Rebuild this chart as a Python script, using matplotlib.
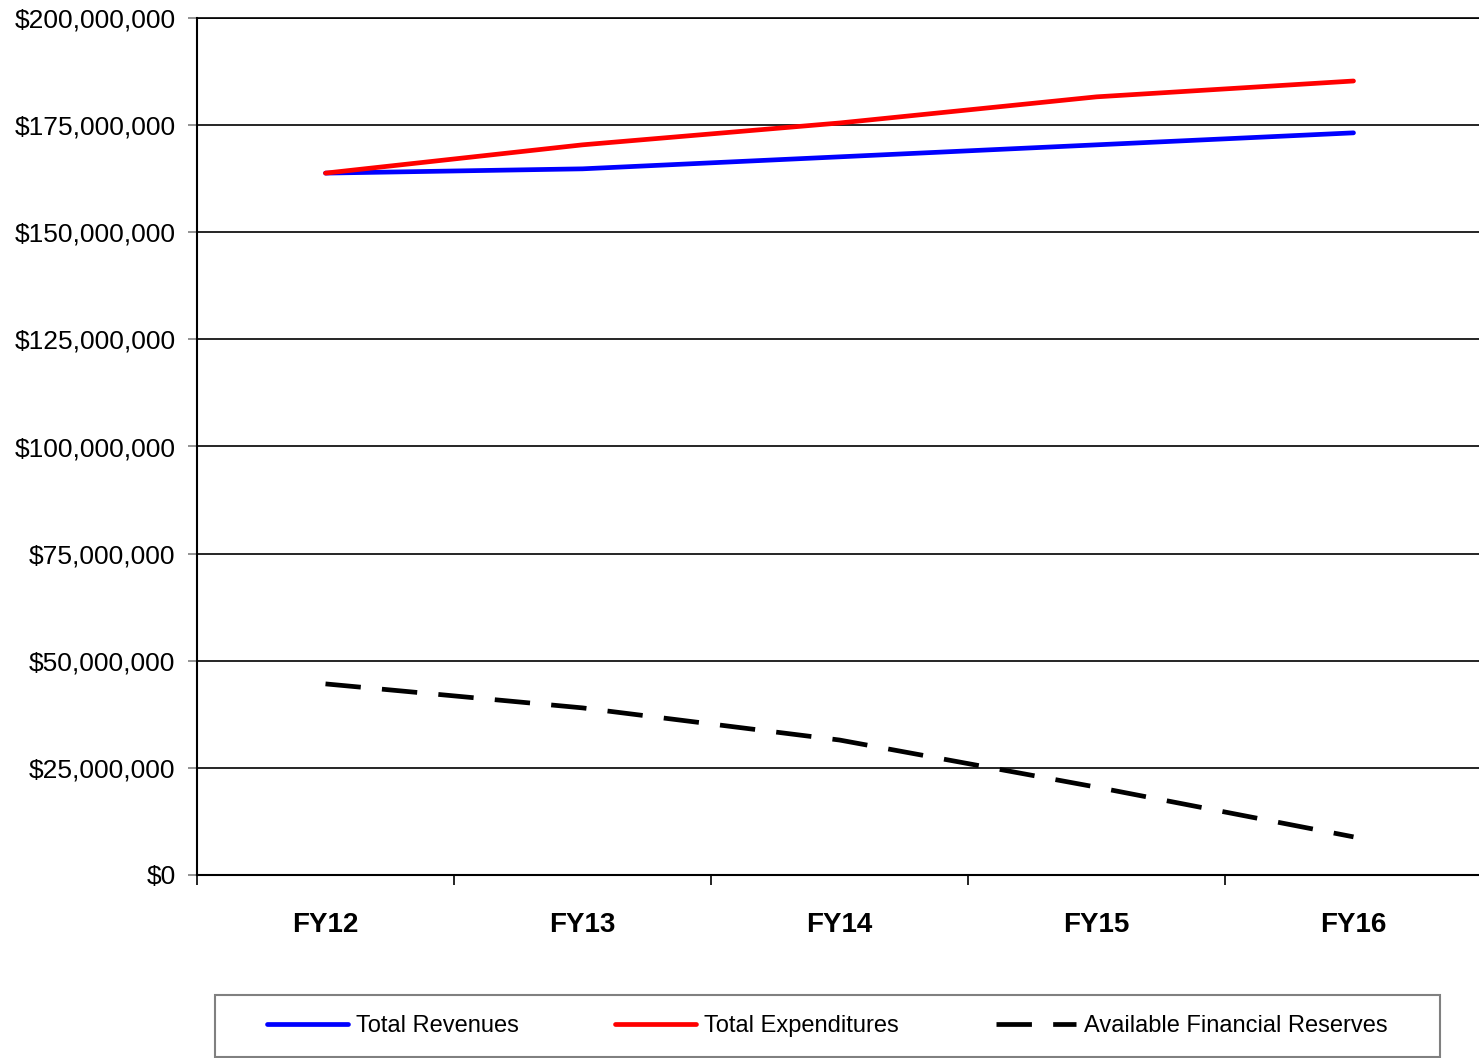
import matplotlib.pyplot as plt
from matplotlib.patches import Rectangle
from matplotlib.ticker import FuncFormatter, FixedLocator

years = ["FY12", "FY13", "FY14", "FY15", "FY16"]
revenues = [163.8e6, 164.8e6, 167.6e6, 170.4e6, 173.2e6]
expenditures = [163.8e6, 170.4e6, 175.5e6, 181.6e6, 185.3e6]
reserves = [44.6e6, 39.0e6, 31.5e6, 20.5e6, 8.9e6]

plt.rcParams["font.family"] = ["Liberation Sans", "DejaVu Sans"]

fig = plt.figure(figsize=(14.79, 10.58), dpi=100)
ax = fig.add_axes([197 / 1479, 1 - 875 / 1058, 1285 / 1479, 857 / 1058])

x = list(range(len(years)))
ax.plot(x, revenues, color="#0000ff", lw=3.4, solid_capstyle="round", label="Total Revenues", zorder=3)
ax.plot(x, expenditures, color="#ff0000", lw=3.4, solid_capstyle="round", label="Total Expenditures", zorder=4)
ax.plot(x, reserves, color="black", lw=3.4, dashes=(7.5, 4.5), label="Available Financial Reserves", zorder=3)

ax.set_xlim(-0.5, 4.5)
ax.set_ylim(0, 200e6)
ax.set_yticks([i * 25e6 for i in range(9)])
ax.yaxis.set_major_formatter(FuncFormatter(lambda v, p: "${:,.0f}".format(v)))
ax.grid(axis="y", color="black", lw=1.2)
ax.set_axisbelow(True)

ax.set_xticks(x)
ax.set_xticklabels(years, fontsize=20, fontweight="bold")
ax.xaxis.set_minor_locator(FixedLocator([i - 0.5 for i in range(6)]))
ax.tick_params(axis="x", which="major", length=0, pad=27)
ax.tick_params(axis="x", which="minor", length=7, width=1.2, color="black")
ax.tick_params(axis="y", length=6.5, width=1.2, color="#808080", pad=9, labelsize=19)

ax.spines["right"].set_visible(False)
ax.spines["top"].set_linewidth(1.2)
ax.spines["left"].set_linewidth(1.5)
ax.spines["bottom"].set_linewidth(1.5)

# legend box below the plot
fig.patches.append(Rectangle((215 / 1479, 1 - 1057 / 1058), 1225 / 1479, 62 / 1058,
                             transform=fig.transFigure, facecolor="white",
                             edgecolor="#808080", lw=1.5))
handles, labels = ax.get_legend_handles_labels()
fig.legend(handles, labels, loc="center", bbox_to_anchor=(827.5 / 1479, 1 - 1026 / 1058),
           ncol=3, frameon=False, fontsize=17, handlelength=3.4, handletextpad=0.35,
           columnspacing=4.1)

plt.savefig("out.png", dpi=100)
